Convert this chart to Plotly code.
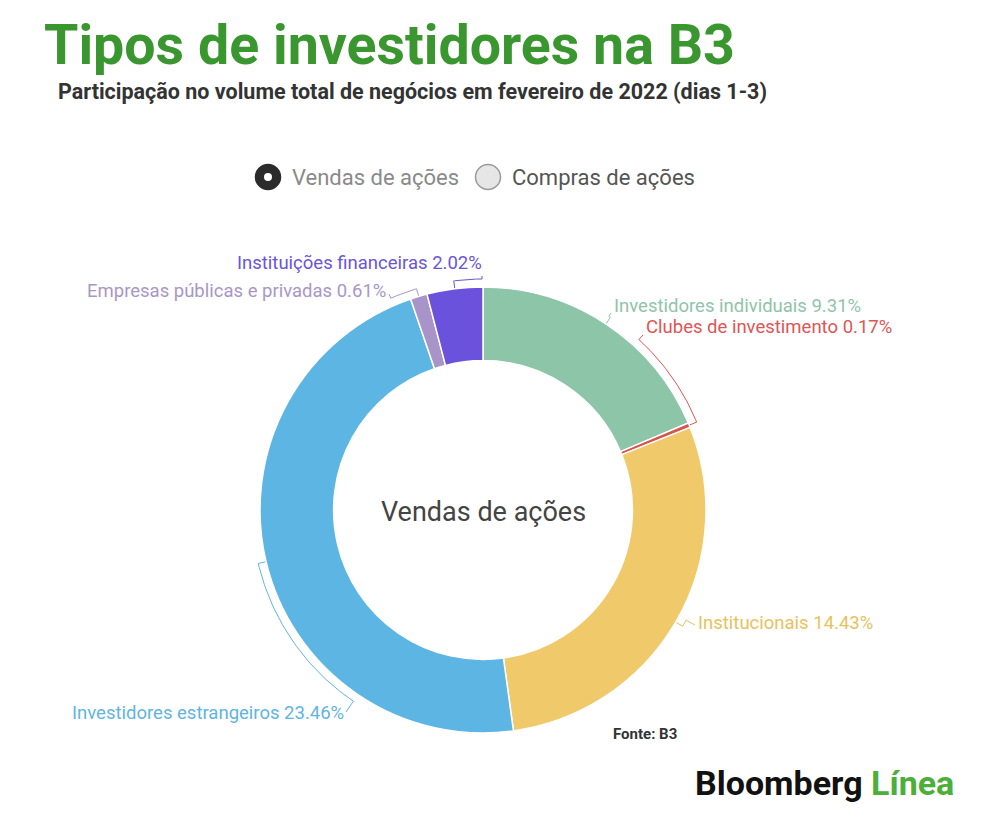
import numpy as np
import plotly.graph_objects as go

# dados: participação nas vendas de ações (fev/2022, dias 1-3)
categorias = ["Investidores individuais", "Clubes de investimento", "Institucionais",
              "Investidores estrangeiros", "Empresas públicas e privadas", "Instituições financeiras"]
vendas = [9.31, 0.17, 14.43, 23.46, 0.61, 2.02]

cores_fatias = ["#8cc5a8", "#d9534f", "#f0c96b", "#5db5e3", "#a994c9", "#6a52dd"]
cores_rotulos = ["#8fc4a8", "#e05555", "#e6c25e", "#62b4e0", "#a996c8", "#6a55d6"]

W, H = 1000, 830
OFF = 8  # margem do body da página
dom_x = [0.252, 0.698]
dom_y = [0.1265, 0.6639]
cx = (dom_x[0] + dom_x[1]) / 2 * W + OFF
cy = H - (dom_y[0] + dom_y[1]) / 2 * H + OFF
raio = (dom_x[1] - dom_x[0]) * W / 2

# posição dos rótulos (texto) e ponto final da linha guia, em pixels
pos_rotulos = [
    dict(x=612, y=306, lado="left", fim=(611, 313)),
    dict(x=644, y=327, lado="left", fim=(643, 335)),
    dict(x=696, y=623, lado="left", fim=(695, 625)),
    dict(x=346, y=713, lado="right", fim=(346, 712)),
    dict(x=388, y=291, lado="right", fim=(389, 294)),
    dict(x=484, y=263, lado="right", fim=(482, 276)),
]

fig = go.Figure()

fig.add_trace(go.Pie(
    labels=categorias, values=vendas, sort=False, direction="clockwise", rotation=0,
    hole=0.67, domain=dict(x=dom_x, y=dom_y),
    marker=dict(colors=cores_fatias, line=dict(color="white", width=1.5)),
    textinfo="none", hovertemplate="%{label}: %{value:.2f}%<extra></extra>",
    showlegend=False,
))

# linhas guia: traço radial no meio da fatia, arco até o ângulo do rótulo, depois reta
total = sum(vendas)
acum = np.cumsum([0] + vendas)
for i, v in enumerate(vendas):
    meio = (acum[i] + v / 2) / total * 2 * np.pi
    fx, fy = pos_rotulos[i]["fim"]
    ang_fim = np.arctan2(fx - cx, -(fy - cy)) % (2 * np.pi)
    if meio - ang_fim > np.pi:
        ang_fim += 2 * np.pi
    if ang_fim - meio > np.pi:
        ang_fim -= 2 * np.pi
    r2 = raio + 8
    angs = np.linspace(meio, ang_fim, 40)
    xs = [cx + raio * np.sin(meio)] + list(cx + r2 * np.sin(angs)) + [fx]
    ys = [cy - raio * np.cos(meio)] + list(cy - r2 * np.cos(angs)) + [fy]
    fig.add_trace(go.Scatter(x=xs, y=ys, mode="lines", line=dict(color=cores_rotulos[i], width=1),
                             hoverinfo="skip", showlegend=False))
    p = pos_rotulos[i]
    fig.add_annotation(x=p["x"], y=p["y"], xref="x", yref="y", showarrow=False,
                       xanchor=p["lado"], yanchor="middle",
                       text=f"{categorias[i]} {v:.2f}%",
                       font=dict(family="Roboto", size=18.5, color=cores_rotulos[i]))

# seletor (radio) Vendas / Compras
fig.add_trace(go.Scatter(x=[268, 488], y=[177, 177], mode="markers",
                         marker=dict(size=[25, 25], color=["#2b2b2b", "#e6e6e6"], opacity=1,
                                     line=dict(color=["#2b2b2b", "#9a9a9a"], width=1.5)),
                         hoverinfo="skip", showlegend=False))
fig.add_trace(go.Scatter(x=[268], y=[177], mode="markers",
                         marker=dict(size=8, color="white", opacity=1), hoverinfo="skip", showlegend=False))
fig.add_annotation(x=290, y=177, xref="x", yref="y", showarrow=False, xanchor="left", yanchor="middle",
                   text="Vendas de ações", font=dict(family="Roboto", size=22, color="#8a8a8a"))
fig.add_annotation(x=510, y=177, xref="x", yref="y", showarrow=False, xanchor="left", yanchor="middle",
                   text="Compras de ações", font=dict(family="Roboto", size=22, color="#555555"))

# textos
fig.add_annotation(x=cx, y=512, xref="x", yref="y", showarrow=False, xanchor="center", yanchor="middle",
                   text="Vendas de ações", font=dict(family="Roboto", size=27, color="#444444"))
fig.add_annotation(x=42, y=45, xref="x", yref="y", showarrow=False, xanchor="left", yanchor="middle",
                   text="<b>Tipos de investidores na B3</b>",
                   font=dict(family="Roboto", size=55.5, color="#3a962e"))
fig.add_annotation(x=56, y=91, xref="x", yref="y", showarrow=False, xanchor="left", yanchor="middle",
                   text="<b>Participação no volume total de negócios em fevereiro de 2022 (dias 1-3)</b>",
                   font=dict(family="Roboto", size=21.5, color="#333333"))
fig.add_annotation(x=611, y=734, xref="x", yref="y", showarrow=False, xanchor="left", yanchor="middle",
                   text="<b>Fonte: B3</b>", font=dict(family="Roboto", size=15, color="#333333"))
fig.add_annotation(x=956, y=783, xref="x", yref="y", showarrow=False, xanchor="right", yanchor="middle",
                   text="<b>Bloomberg</b> <b><span style='color:#4caf3a'>Línea</span></b>",
                   font=dict(family="Roboto", size=34, color="#111111"))

fig.update_layout(
    width=W, height=H, margin=dict(l=0, r=0, t=0, b=0),
    paper_bgcolor="white", plot_bgcolor="rgba(0,0,0,0)",
    xaxis=dict(range=[OFF, W + OFF], visible=False, fixedrange=True, domain=[0, 1]),
    yaxis=dict(range=[H + OFF, OFF], visible=False, fixedrange=True, domain=[0, 1]),
)

fig.write_html("out.html")
